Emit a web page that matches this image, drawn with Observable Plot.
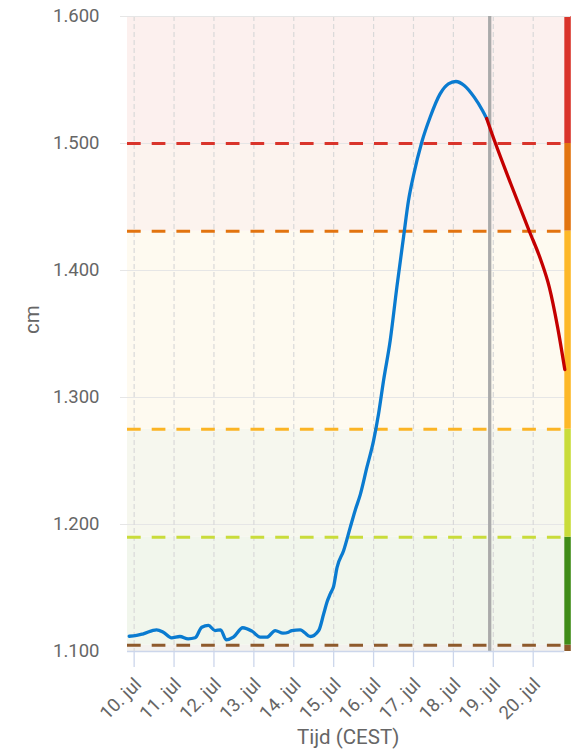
<!DOCTYPE html>
<html><head><meta charset="utf-8">
<script src="https://cdn.jsdelivr.net/npm/d3@7"></script>
<script src="https://cdn.jsdelivr.net/npm/@observablehq/plot@0.6"></script>
<style>
html,body{margin:0;padding:0;background:#fff;}
</style></head><body><div id="chart"></div>
<script>
// Measured water level (cm)
const measuredTimes = [
"2021-07-09T21:00","2021-07-10T01:30","2021-07-10T05:30","2021-07-10T13:30","2021-07-10T17:30",
"2021-07-10T22:30","2021-07-11T03:30","2021-07-11T08:30","2021-07-11T12:40","2021-07-11T16:40",
"2021-07-11T20:40","2021-07-12T00:40","2021-07-12T04:00","2021-07-12T07:20","2021-07-12T11:40",
"2021-07-12T17:20","2021-07-12T22:50","2021-07-13T03:50","2021-07-13T07:50","2021-07-13T12:50",
"2021-07-13T17:30","2021-07-13T20:50","2021-07-13T22:50","2021-07-14T03:50","2021-07-14T10:00",
"2021-07-14T15:00","2021-07-14T18:00","2021-07-14T20:00","2021-07-14T22:00","2021-07-15T00:00",
"2021-07-15T02:00","2021-07-15T06:00","2021-07-15T10:00","2021-07-15T13:00","2021-07-15T16:00",
"2021-07-15T20:00","2021-07-16T00:00","2021-07-16T03:00","2021-07-16T06:00","2021-07-16T10:00",
"2021-07-16T14:00","2021-07-16T18:00","2021-07-16T21:00","2021-07-17T00:00","2021-07-17T05:00",
"2021-07-17T10:00","2021-07-17T16:00","2021-07-17T21:00","2021-07-18T01:30","2021-07-18T06:30",
"2021-07-18T12:30","2021-07-18T17:30","2021-07-18T20:00"];
const measuredValues = [
1112.0,1112.6,1113.9,1117.1,1115.2,
1110.8,1111.8,1110.0,1110.8,1119.1,
1120.5,1116.5,1117.1,1109.2,1111.3,
1118.7,1116.0,1111.3,1111.3,1116.5,
1114.4,1115.2,1116.5,1117.1,1111.8,
1116.5,1129.7,1139.0,1145.5,1151.5,
1166.0,1179.5,1197.9,1211.5,1223.5,
1245.1,1266.1,1287.2,1313.4,1344.9,
1386.9,1426.2,1455.1,1474.8,1501.2,
1520.7,1539.1,1547.0,1548.8,1545.7,
1536.5,1526.0,1519.7];

// Forecast (cm)
const forecastTimes = ["2021-07-18T20:00","2021-07-18T22:30","2021-07-19T10:30","2021-07-19T21:30",
"2021-07-20T04:40","2021-07-20T09:40","2021-07-20T14:40","2021-07-20T19:00"];
const forecastValues = [1519.7,1510.2,1468.3,1431.5,1407.9,1386.9,1355.4,1322.0];

// Thresholds and bands
const thresholdValues = [1105, 1190, 1275, 1431, 1500];
const thresholdColors = ["#8e5a2c", "#c9dc3a", "#fbb424", "#e2740f", "#d9342b"];
const bandLows  = [1100, 1105, 1190, 1275, 1431, 1500];
const bandHighs = [1105, 1190, 1275, 1431, 1500, 1600];
const bandFills = ["#f3f1ee", "#f1f6ec", "#f6f7ee", "#fefaf0", "#fcf3ee", "#fcf0ee"];
const stripeFills = ["#8c5a2b", "#3f8c17", "#c9dc3a", "#fdb827", "#e2740f", "#d9342b"];

const yTicks = [1100, 1200, 1300, 1400, 1500, 1600];
const xTickDates = ["2021-07-10","2021-07-11","2021-07-12","2021-07-13","2021-07-14","2021-07-15",
"2021-07-16","2021-07-17","2021-07-18","2021-07-19","2021-07-20"];
const xTickLabels = ["10. jul","11. jul","12. jul","13. jul","14. jul","15. jul","16. jul","17. jul","18. jul","19. jul","20. jul"];
const nowTime = "2021-07-18T21:50";
const xDomain = ["2021-07-09T20:00", "2021-07-20T19:00"];
const yTitle = "cm";
const xTitle = "Tijd (CEST)";

const parseT = d3.utcParse("%Y-%m-%dT%H:%M");
const parseD = d3.utcParse("%Y-%m-%d");
const nl = d3.formatLocale({decimal: ",", thousands: ".", grouping: [3], currency: ["€", ""]});
const fmtY = nl.format(",d");

const measured = measuredTimes.map((t, i) => ({t: parseT(t), v: measuredValues[i]}));
const forecast = forecastTimes.map((t, i) => ({t: parseT(t), v: forecastValues[i]}));
const bands = bandLows.map((lo, i) => ({lo, hi: bandHighs[i], fill: bandFills[i], stripe: stripeFills[i]}));
const thresholds = thresholdValues.map((v, i) => ({v, c: thresholdColors[i]}));
const xTicks = xTickDates.map((d, i) => ({t: parseD(d), label: xTickLabels[i]}));
const xDom = xDomain.map(parseT);
const xEnd = xDom[1];

const W = 573, H = 749;
const chart = Plot.plot({
  width: W, height: H,
  marginLeft: 127, marginRight: 8.7, marginTop: 16, marginBottom: 98,
  x: {type: "utc", domain: xDom, axis: null},
  y: {domain: [1100, 1600], axis: null},
  color: {type: "identity"},
  style: {fontFamily: "Roboto, 'Noto Sans', sans-serif", fontSize: "18.5px", color: "#666", background: "#fff", overflow: "visible"},
  marks: [
    Plot.rect(bands, {y1: "lo", y2: "hi", fill: "fill"}),
    Plot.ruleY(yTicks.slice(1), {stroke: "#e6e6e6", strokeWidth: 1.2, insetLeft: -7, insetRight: -6}),
    Plot.ruleX(xTicks, {x: "t", stroke: "#d9d9d9", strokeWidth: 1.2, strokeDasharray: "5,3"}),
    Plot.ruleY(thresholds, {y: "v", stroke: "c", strokeWidth: 3, strokeDasharray: "13.7,11"}),
    Plot.rect(bands, {x1: () => xEnd, x2: () => xEnd, y1: "lo", y2: "hi", fill: "stripe", insetRight: -6.5}),
    Plot.ruleY([1600], {stroke: "#e6e6e6", strokeWidth: 1.2, insetRight: -6}),
    Plot.ruleX([parseT(nowTime)], {stroke: "#aaaaaa", strokeWidth: 3.3}),
    Plot.ruleY([1100], {stroke: "#ccd6eb", strokeWidth: 1.3}),
    Plot.ruleX(xTicks, {x: "t", y1: 1100, y2: 1100, insetBottom: -16, stroke: "#ccd6eb", strokeWidth: 1.3}),
    Plot.line(measured, {x: "t", y: "v", stroke: "#0a7bd0", strokeWidth: 3.3, curve: "monotone-x"}),
    Plot.line(forecast, {x: "t", y: "v", stroke: "#c40000", strokeWidth: 3.3, curve: "monotone-x"}),
    Plot.text(yTicks, {y: d => d, text: d => fmtY(d), frameAnchor: "left", dx: -28, textAnchor: "end", fill: "#666", fontSize: 18.5}),
    Plot.text(xTicks, {x: "t", y: 1100, text: "label", rotate: -45, textAnchor: "end", dx: 4, dy: 30, fill: "#666", fontSize: 18.5}),
    Plot.text([yTitle], {text: d => d, frameAnchor: "left", dx: -95, rotate: -90, fill: "#666", fontSize: 20.5}),
    Plot.text([xTitle], {text: d => d, frameAnchor: "bottom", dx: 2, dy: 92, fill: "#666", fontSize: 20.5})
  ]
});
document.getElementById("chart").appendChild(chart);
</script>
</body></html>
